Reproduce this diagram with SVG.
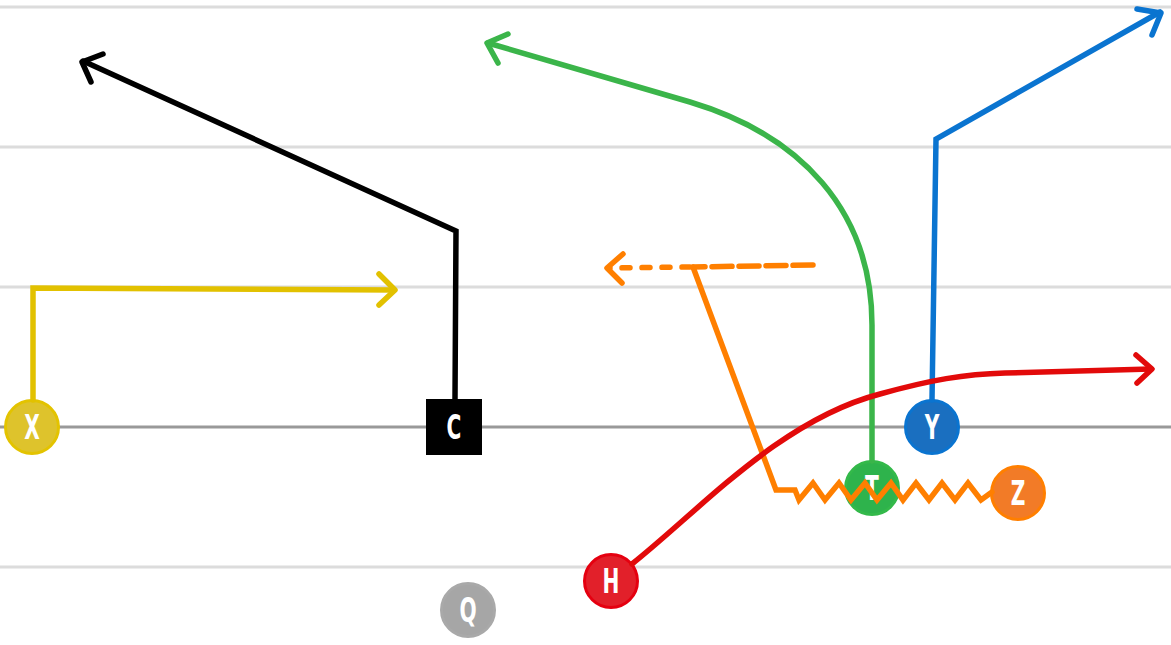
<svg xmlns="http://www.w3.org/2000/svg" width="1171" height="645" viewBox="0 0 1171 645">
<style>
.yl{stroke:#dcdcdc;stroke-width:3;fill:none}
.los{stroke:#999;stroke-width:3;fill:none}
.r{fill:none;stroke-width:5.5;stroke-linecap:round;stroke-linejoin:miter}
.ah{fill:none;stroke-width:5.5;stroke-linecap:round;stroke-linejoin:round}
.lbl{font-family:"Liberation Sans Narrow","DejaVu Sans Condensed","Liberation Sans",sans-serif;font-weight:bold;font-size:33px;fill:#fff;text-anchor:middle;dominant-baseline:central}
</style>
<rect width="1171" height="645" fill="#fff"/>
<g id="field">
<line class="yl" x1="0" y1="7" x2="1171" y2="7"/>
<line class="yl" x1="0" y1="147" x2="1171" y2="147"/>
<line class="yl" x1="0" y1="287" x2="1171" y2="287"/>
<line class="los" x1="0" y1="427" x2="1171" y2="427"/>
<line class="yl" x1="0" y1="567" x2="1171" y2="567"/>
</g>
<g id="X"><circle cx="32" cy="427" r="26.5" fill="#dec32c" stroke="#e3c300" stroke-width="3"/><text class="lbl" transform="translate(32,428) scale(0.68,1)">X</text></g>
<g id="C"><rect x="426" y="399" width="56" height="56" fill="#000"/><text class="lbl" transform="translate(454,428) scale(0.68,1)">C</text></g>
<g id="Q"><circle cx="468" cy="610" r="26.5" fill="#a6a6a6" stroke="#a9a9a9" stroke-width="3"/><text class="lbl" transform="translate(468,611) scale(0.68,1)">Q</text></g>
<g id="H"><circle cx="611" cy="581" r="26.5" fill="#e2202a" stroke="#e50010" stroke-width="3"/><text class="lbl" transform="translate(611,582) scale(0.68,1)">H</text></g>
<g id="T"><circle cx="872" cy="488" r="26.5" fill="#2eb34c" stroke="#33b94a" stroke-width="3"/><text class="lbl" transform="translate(872,489) scale(0.68,1)">T</text></g>
<g id="Y"><circle cx="932" cy="427" r="26.5" fill="#1a6fc0" stroke="#0a74d0" stroke-width="3"/><text class="lbl" transform="translate(932,428) scale(0.68,1)">Y</text></g>
<g id="Z"><circle cx="1018" cy="493" r="26.5" fill="#f27b27" stroke="#ff7f00" stroke-width="3"/><text class="lbl" transform="translate(1018,494) scale(0.68,1)">Z</text></g>
<g id="connectors">
<g stroke="#e2c100">
<path class="r" d="M33,400 L33,288 L394,290"/>
<path class="ah" d="M379,274 L395,290 L379,305"/>
</g>
<g stroke="#000">
<path class="r" d="M455,399 L456,231 L83,61"/>
<path class="ah" d="M103,54 L82,62 L91,82"/>
</g>
<g stroke="#3bb54a">
<path class="r" d="M872,461 L872,325 C872,210 800,135 690,102 L488,43"/>
<path class="ah" d="M508,34 L487,43 L498,63"/>
</g>
<g stroke="#ff7f00">
<path class="r" d="M992,492 L981,500 L968,483 L955,500 L942,483 L929,500 L916,483 L903,500 L891,483 L877,500 L865,483 L851,500 L839,483 L825,500 L813,483 L799,500 L795,490 L776,490 L693,267"/>
<path class="r" d="M813,265 L693,267" stroke-dasharray="20,7"/>
<path class="r" d="M690,267 L610,268" stroke-dasharray="8,12"/>
<path class="ah" d="M623,254 L607,268 L622,283"/>
</g>
<g stroke="#0a74d0">
<path class="r" d="M932,400 L936,139 L1160,12"/>
<path class="ah" d="M1137,9 L1161,13 L1152,35"/>
</g>
<g stroke="#e20a0a">
<path class="r" d="M632,564 C700,510 780,420 880,394 C930,380 965,374 1005,373 L1151,369"/>
<path class="ah" d="M1136,355 L1152,369 L1137,383"/>
</g>
</g>
</svg>
